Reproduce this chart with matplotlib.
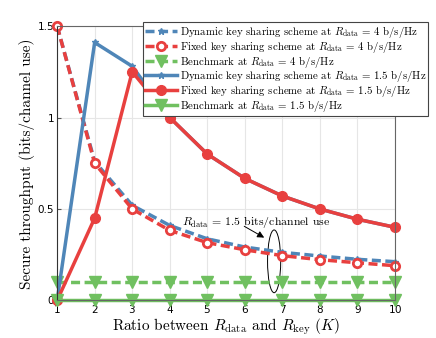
import numpy as np
import matplotlib
matplotlib.use('Agg')
import matplotlib.pyplot as plt
from matplotlib.patches import Ellipse

plt.rcParams['mathtext.fontset'] = 'cm'
plt.rcParams['font.family'] = 'serif'
plt.rcParams['font.serif'] = ['cmr10', 'DejaVu Serif']
plt.rcParams['axes.formatter.use_mathtext'] = True

K = np.arange(1, 11)

# R_data = 4 b/s/Hz
dyn_4 = [1.5, 0.76, 0.52, 0.41, 0.337, 0.292, 0.263, 0.243, 0.225, 0.212]
fix_4 = [1.5, 0.75, 0.50, 0.383, 0.316, 0.277, 0.245, 0.223, 0.206, 0.19]
bench_4 = [0.1] * 10
# R_data = 1.5 b/s/Hz
dyn_15 = [0.0, 1.41, 1.28, 1.0, 0.8, 0.667, 0.571, 0.5, 0.444, 0.4]
fix_15 = [0.0, 0.45, 1.25, 1.0, 0.8, 0.667, 0.571, 0.5, 0.444, 0.4]
bench_15 = [0.0] * 10

blue = '#4f86b8'
red = '#e8403f'
green = '#70c060'

fig = plt.figure(figsize=(4.36, 3.38), dpi=100)
ax = fig.add_axes([0.131, 0.111, 0.775, 0.812])

lw = 2.5
dash = (2.6, 1.3)
ax.plot(K, dyn_4, '--', color=blue, lw=lw, dashes=dash, marker='*', ms=5,
        clip_on=False,
        label=r'Dynamic key sharing scheme at $R_{\rm data}$ = 4 b/s/Hz')
ax.plot(K, fix_4, '--', color=red, lw=lw, dashes=dash, marker='o', ms=6,
        mfc='white', mew=2, clip_on=False,
        label=r'Fixed key sharing scheme at $R_{\rm data}$ = 4 b/s/Hz')
ax.plot(K, bench_4, '--', color=green, lw=lw, dashes=dash, marker='v', ms=8,
        clip_on=False,
        label=r'Benchmark at $R_{\rm data}$ = 4 b/s/Hz')
ax.plot(K, dyn_15, '-', color=blue, lw=lw, marker='*', ms=5, clip_on=False,
        label=r'Dynamic key sharing scheme at $R_{\rm data}$ = 1.5 b/s/Hz')
ax.plot(K, fix_15, '-', color=red, lw=lw, marker='o', ms=7, clip_on=False,
        label=r'Fixed key sharing scheme at $R_{\rm data}$ = 1.5 b/s/Hz')
ax.plot(K, bench_15, '-', color=green, lw=lw, marker='v', ms=8, clip_on=False,
        label=r'Benchmark at $R_{\rm data}$ = 1.5 b/s/Hz')

ax.set_xlim(1, 10)
ax.set_ylim(0, 1.5)
ax.set_xticks(K)
ax.set_yticks([0, 0.5, 1, 1.5])
ax.set_yticklabels(['0', '0.5', '1', '1.5'])
for lab in ax.get_xticklabels() + ax.get_yticklabels():
    lab.set_family('DejaVu Sans')
    lab.set_fontsize(7.5)
ax.tick_params(direction='in', length=3, pad=2, color='#555555')
ax.grid(True, color='#e6e6e6', lw=0.8)
for s in ax.spines.values():
    s.set_color('#666666')
    s.set_linewidth(0.8)
ax.spines['left'].set_color('#333333')

ax.set_xlabel(r'Ratio between $R_{\rm data}$ and $R_{\rm key}$ $(K)$', fontsize=11, labelpad=1)
ax.set_ylabel('Secure throughput (bits/channel use)', fontsize=11, labelpad=2)

# annotation
ax.text(4.32, 0.43, r'$R_{\rm data}$ = 1.5 bits/channel use', fontsize=8.5,
        va='center', ha='left')
ax.annotate('', xy=(6.58, 0.336), xytext=(5.92, 0.413),
            arrowprops=dict(arrowstyle='-|>', color='black', lw=0.7))
ax.add_patch(Ellipse((6.78, 0.214), 0.35, 0.343, fill=False, ec='black', lw=0.7))

leg = ax.legend(loc='upper left', bbox_to_anchor=(0.328, 0.935),
                bbox_transform=fig.transFigure, fontsize=7.8, frameon=True,
                fancybox=False, edgecolor='#444444', framealpha=1,
                borderaxespad=0, handlelength=2.9, handletextpad=0.3,
                labelspacing=-0.12, borderpad=0.2)
leg.get_frame().set_linewidth(0.8)
leg.set_zorder(5)

plt.savefig('out.png', dpi=100)
